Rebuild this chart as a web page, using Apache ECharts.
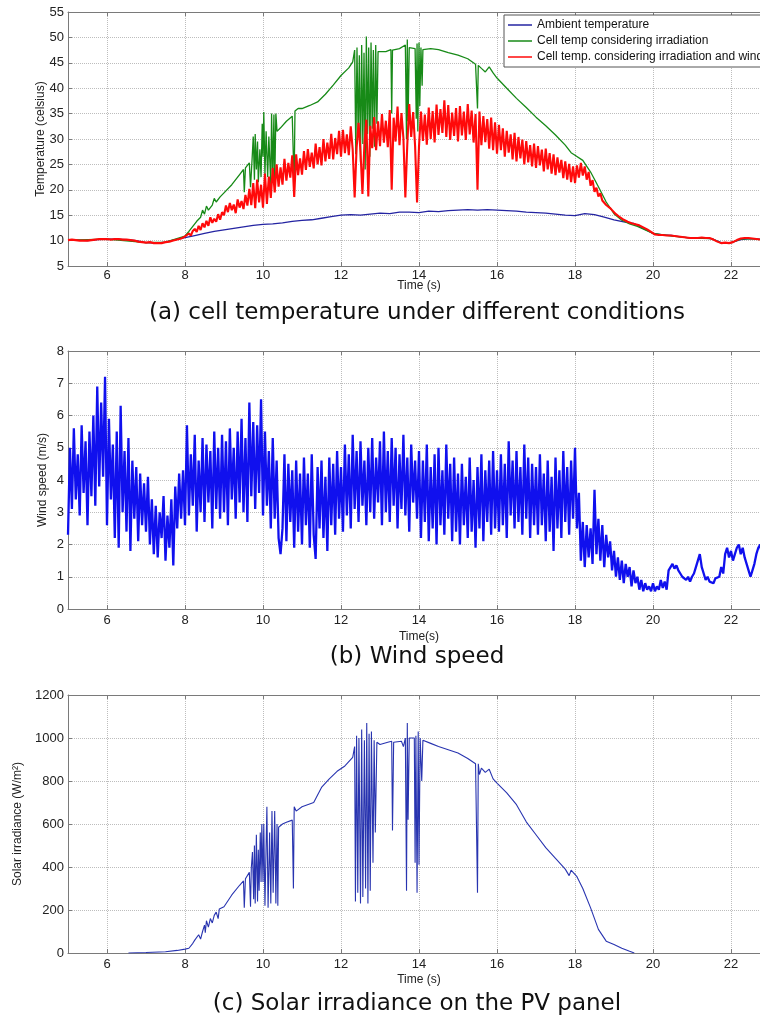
<!DOCTYPE html>
<html>
<head>
<meta charset="utf-8">
<title>PV cell temperature, wind speed and solar irradiance</title>
<script src="https://cdn.jsdelivr.net/npm/echarts@6.0.0/dist/echarts.min.js"></script>
<style>
html, body { margin: 0; padding: 0; background: #fff; }
#main { width: 760px; height: 1018px; }
</style>
</head>
<body>
<div id="main"></div>
<script>
//time axis (s)
var xTicks = [6, 8, 10, 12, 14, 16, 18, 20, 22];

//ambient temperature, one sample every 0.25 s from 5 s
var ambientStart = 5, ambientStep = 0.25;
var ambientTemp = [
	10.1, 10.1, 10.0, 10.2, 10.3, 10.3, 10.2, 10.0, 9.6, 9.5, 9.7, 10.2,
	10.6, 11.0, 11.4, 11.8, 12.1, 12.4, 12.7, 13.0, 13.2, 13.3, 13.5, 13.8,
	14.0, 14.1, 14.4, 14.7, 15.0, 15.1, 15.0, 15.2, 15.4, 15.3, 15.6, 15.6,
	15.5, 15.8, 15.7, 15.9, 16.0, 16.1, 16.0, 16.1, 16.0, 15.9, 15.8, 15.6,
	15.5, 15.4, 15.2, 15.0, 14.9, 15.3, 15.1, 14.6, 14.1, 13.7, 13.4, 12.4,
	11.4, 11.1, 11.0, 10.7, 10.5, 10.5, 10.4, 9.6, 9.6, 10.2, 10.4, 10.3,
	9.7
];

//cell temp considering irradiation: [time, temp]
var irrTemp = [
	[5, 10.1], [6, 10.3], [7, 9.6], [7.5, 9.7], [8, 10.9],
	[8.1, 11.8], [8.2, 12.8], [8.3, 13.8], [8.4, 14.6], [8.45, 16.0], [8.5, 15.2], [8.55, 16.8],
	[8.6, 16.0], [8.7, 17.0], [8.75, 18.3], [8.8, 17.6], [8.9, 18.6], [9.0, 19.4], [9.2, 21.0],
	[9.4, 23.0], [9.5, 24.0], [9.52, 19.5], [9.55, 24.3], [9.65, 25.3], [9.68, 20.5], [9.72, 26.0],
	[9.75, 30.5], [9.78, 22.0], [9.8, 31.0], [9.83, 24.0], [9.86, 29.5], [9.88, 21.5], [9.92, 28.0],
	[9.95, 22.5], [9.98, 33.0], [10.0, 26.5], [10.02, 35.3], [10.05, 23.0], [10.08, 31.5],
	[10.12, 22.5], [10.15, 30.5], [10.2, 21.0], [10.22, 35.0], [10.25, 22.5], [10.28, 34.8],
	[10.3, 20.5], [10.33, 35.0], [10.36, 31.5], [10.45, 32.2], [10.6, 33.5], [10.75, 34.5],
	[10.78, 26.0], [10.8, 22.5], [10.82, 35.5], [10.9, 36.0], [11.0, 36.0], [11.2, 36.6],
	[11.4, 37.3], [11.6, 38.8], [11.8, 40.6], [12.0, 42.5], [12.2, 44.0], [12.3, 45.2],
	[12.35, 47.5], [12.38, 27.0], [12.41, 48.0], [12.44, 30.5], [12.47, 46.5], [12.5, 25.5],
	[12.53, 48.5], [12.56, 29.0], [12.59, 47.0], [12.62, 24.0], [12.65, 50.2], [12.68, 31.0],
	[12.71, 48.0], [12.74, 26.5], [12.77, 49.0], [12.8, 32.0], [12.83, 47.5], [12.86, 28.5],
	[12.89, 48.5], [12.92, 33.0], [12.95, 47.2], [13.0, 47.0], [13.15, 47.2], [13.28, 47.6],
	[13.3, 35.0], [13.32, 47.5], [13.5, 47.8], [13.65, 48.5], [13.68, 30.0], [13.7, 49.6],
	[13.72, 33.5], [13.75, 48.0], [13.9, 47.8], [13.93, 34.0], [13.95, 48.8], [13.97, 31.5],
	[14.0, 49.0], [14.02, 36.5], [14.05, 48.0], [14.08, 40.5], [14.1, 47.6], [14.3, 47.8],
	[14.5, 47.6], [14.75, 47.0], [15.0, 46.5], [15.25, 45.8], [15.45, 44.7], [15.5, 36.0],
	[15.52, 44.5], [15.6, 43.9], [15.7, 43.2], [15.8, 44.2], [15.9, 43.0], [16.0, 42.0],
	[16.25, 40.0], [16.5, 38.0], [16.75, 36.2], [17.0, 34.3], [17.25, 32.6], [17.5, 30.8],
	[17.75, 28.8], [17.9, 27.3], [18.0, 26.8], [18.2, 25.8], [18.4, 23.5], [18.6, 20.6],
	[18.8, 17.6], [19.0, 15.3], [19.2, 14.0], [19.4, 13.3], [19.6, 12.8], [20.0, 11.4],
	[20.5, 10.9], [21.0, 10.5], [21.5, 10.4], [21.75, 9.5], [22.0, 9.6], [22.25, 10.3],
	[22.5, 10.4], [22.75, 10.2], [23.0, 9.7]
];

//cell temp considering irradiation and wind, one sample every 0.05 s from 5 s
var windTempStart = 5, windTempStep = 0.05;
var windTemp = [
	10.1, 10.1, 10.2, 10.1, 10.1, 10.0, 10.0, 10.1, 10.0, 10.0, 10.0, 10.1, 10.1, 10.2, 10.2, 10.2, 10.3, 10.2, 10.3, 10.3,
	10.3, 10.3, 10.2, 10.3, 10.3, 10.2, 10.3, 10.2, 10.2, 10.3, 10.2, 10.2, 10.1, 10.1, 10.0, 9.9, 9.8, 9.7, 9.7, 9.6,
	9.6, 9.6, 9.7, 9.6, 9.5, 9.5, 9.5, 9.6, 9.5, 9.6, 9.7, 9.7, 9.8, 9.9, 10.0, 10.1, 10.2, 10.3, 10.4, 10.6,
	10.8, 11.1, 11.4, 11.0, 11.9, 12.3, 11.7, 12.9, 12.1, 13.4, 12.6, 13.9, 12.9, 14.6, 13.5, 14.3, 13.7, 15.2, 14.1, 15.6,
	15.0, 16.9, 15.6, 17.4, 16.0, 17.1, 15.4, 18.1, 16.5, 17.8, 16.2, 19.0, 16.9, 20.2, 17.0, 21.3, 16.4, 22.0, 17.5, 21.0,
	16.5, 23.2, 17.2, 22.6, 18.4, 24.3, 19.5, 25.0, 20.6, 24.4, 21.0, 26.1, 21.8, 25.3, 22.4, 26.8, 18.6, 27.0, 22.9, 26.2,
	23.0, 27.6, 23.9, 28.0, 24.5, 27.3, 24.2, 29.1, 25.0, 28.4, 24.8, 30.0, 25.6, 29.3, 26.1, 31.0, 26.0, 30.2, 27.0, 31.6,
	26.5, 31.8, 27.2, 30.9, 26.8, 32.5, 27.9, 18.5, 28.3, 33.2, 27.5, 19.2, 29.0, 33.8, 18.7, 32.6, 28.2, 34.3, 27.8, 33.5,
	28.6, 34.9, 29.3, 33.6, 28.4, 35.7, 20.0, 34.2, 29.5, 36.4, 28.8, 35.1, 30.2, 18.5, 29.0, 36.9, 30.4, 35.3, 28.6, 17.5,
	28.5, 35.4, 29.6, 34.8, 28.9, 36.2, 30.0, 35.5, 29.3, 36.8, 30.8, 35.9, 31.2, 37.6, 30.4, 36.7, 29.8, 35.2, 30.6, 36.1,
	29.5, 36.5, 30.7, 35.4, 29.8, 36.9, 30.9, 35.6, 29.3, 34.9, 20.0, 35.4, 28.8, 34.5, 29.4, 33.9, 28.1, 34.2, 27.8, 33.3,
	27.1, 32.8, 27.8, 32.1, 26.5, 31.6, 27.3, 30.9, 26.0, 31.2, 25.6, 30.4, 26.2, 29.9, 25.0, 29.6, 25.4, 28.8, 24.6, 29.1,
	24.3, 28.6, 24.8, 27.9, 23.6, 28.1, 24.0, 27.2, 23.2, 27.0, 22.9, 26.4, 23.4, 25.9, 22.3, 25.6, 22.0, 25.1, 21.5, 24.6,
	21.3, 24.8, 22.4, 25.3, 22.8, 24.6, 22.0, 23.5, 20.8, 21.9, 19.6, 20.4, 18.7, 19.3, 17.9, 18.2, 17.0, 17.3, 16.4, 16.0,
	15.6, 15.2, 14.9, 14.6, 14.4, 14.1, 13.9, 13.7, 13.5, 13.4, 13.3, 13.2, 13.1, 13.0, 12.8, 12.6, 12.4, 12.2, 12.0, 11.7,
	11.4, 11.2, 11.1, 11.1, 11.0, 11.1, 11.1, 11.0, 11.1, 11.0, 10.9, 10.9, 10.8, 10.8, 10.7, 10.7, 10.6, 10.6, 10.6, 10.5,
	10.5, 10.5, 10.4, 10.5, 10.5, 10.6, 10.7, 10.5, 10.4, 10.5, 10.4, 10.2, 10.0, 9.8, 9.6, 9.5, 9.5, 9.6, 9.5, 9.5,
	9.6, 9.7, 9.9, 10.1, 10.3, 10.4, 10.4, 10.5, 10.4, 10.5, 10.4, 10.4, 10.5, 10.3, 10.2, 10.2, 10.0, 9.9, 9.8, 9.7,
	9.7
];

//wind speed (m/s), one sample every 0.05 s from 5 s
var windStart = 5, windStep = 0.05;
var windSpeed = [
	2.3, 5.0, 3.1, 5.6, 3.4, 4.8, 2.9, 5.7, 3.6, 5.2, 2.6, 5.5, 3.5, 6.0, 3.2, 6.9, 3.8, 6.4, 4.1, 7.2,
	2.6, 5.9, 3.4, 5.1, 2.2, 5.5, 1.9, 6.3, 3.0, 4.9, 2.4, 5.3, 1.8, 4.6, 2.8, 4.4, 2.1, 4.2, 2.6, 3.9,
	2.4, 4.1, 2.0, 3.4, 1.7, 3.2, 1.6, 3.0, 2.2, 3.5, 1.5, 2.9, 1.9, 3.4, 1.35, 3.8, 2.5, 4.2, 2.8, 4.3,
	2.6, 5.7, 2.9, 4.8, 3.2, 5.4, 2.4, 4.6, 3.0, 5.3, 2.7, 5.1, 3.3, 4.9, 2.5, 5.5, 3.1, 5.0, 2.8, 5.4,
	3.0, 5.2, 2.6, 5.6, 3.4, 5.0, 2.8, 5.5, 3.3, 5.9, 3.0, 5.3, 2.7, 6.4, 3.5, 5.8, 3.1, 5.7, 3.6, 6.5,
	2.9, 5.5, 3.2, 4.9, 2.5, 5.3, 2.8, 4.6, 2.2, 1.7, 2.5, 4.8, 2.1, 4.5, 2.7, 4.3, 1.9, 4.6, 2.4, 4.2,
	2.0, 4.7, 2.6, 4.2, 1.9, 4.8, 2.3, 1.55, 4.4, 2.5, 4.6, 2.2, 4.1, 1.8, 4.7, 2.6, 4.5, 2.3, 4.9, 2.8,
	4.4, 2.4, 5.1, 2.9, 4.8, 2.5, 5.4, 3.1, 4.9, 2.7, 5.2, 3.2, 4.6, 2.6, 5.0, 3.0, 5.3, 2.8, 4.7, 3.3,
	5.2, 2.6, 5.5, 3.0, 4.9, 2.7, 5.3, 3.2, 5.0, 2.5, 4.8, 3.1, 5.4, 2.9, 4.7, 2.4, 5.1, 3.3, 4.6, 2.8,
	4.9, 2.2, 4.6, 2.7, 5.1, 2.1, 4.4, 2.5, 4.8, 2.0, 5.0, 2.6, 4.3, 2.3, 5.1, 2.8, 4.5, 2.1, 4.7, 2.4,
	4.2, 2.0, 4.5, 2.6, 4.1, 2.2, 4.7, 2.4, 4.0, 1.9, 4.4, 2.5, 4.8, 2.1, 4.3, 2.7, 4.6, 2.3, 4.9, 2.5,
	4.3, 2.4, 4.8, 2.6, 4.5, 2.2, 5.2, 2.9, 4.6, 2.5, 4.9, 2.7, 4.4, 2.3, 5.1, 2.8, 4.7, 2.2, 4.5, 2.6,
	4.4, 2.3, 4.8, 2.6, 4.2, 2.1, 4.6, 2.4, 4.1, 1.8, 4.7, 2.5, 4.3, 2.2, 4.9, 2.7, 4.4, 2.3, 4.6, 2.8,
	5.0, 2.5, 3.6, 1.5, 2.7, 1.3, 2.6, 1.6, 2.5, 1.4, 3.7, 1.7, 2.8, 1.5, 2.6, 1.3, 2.3, 1.6, 2.1, 1.2,
	1.8, 1.0, 1.6, 0.9, 1.5, 0.8, 1.4, 1.0, 1.3, 0.7, 1.2, 0.8, 1.0, 0.6, 0.9, 0.55, 0.8, 0.6, 0.7, 0.55,
	0.8, 0.55, 0.7, 0.6, 0.9, 0.65, 0.85, 0.6, 1.2, 1.3, 1.4, 1.25, 1.35, 1.2, 1.1, 1.0, 1.05, 0.9, 1.0, 0.85,
	1.0, 1.1, 1.3, 1.5, 1.7, 1.3, 1.1, 0.9, 1.0, 0.85, 0.9, 0.8, 0.95, 0.9, 1.0, 1.3, 1.1, 1.7, 1.9, 1.6,
	1.8, 1.5, 1.7, 1.9, 2.0, 1.7, 1.9, 1.6, 1.4, 1.2, 1.0, 1.2, 1.4, 1.7, 1.9, 2.0, 1.6, 1.8, 1.3, 1.1,
	1.2
];

//solar irradiance (W/m2): [time, value]
var irradiance = [
	[6.55, 0], [7.0, 2], [7.5, 6], [7.8, 12], [8.0, 18], [8.05, 25], [8.1, 22], [8.2, 45],
	[8.25, 60], [8.3, 52], [8.35, 85], [8.4, 65], [8.45, 100], [8.5, 130], [8.52, 95], [8.55, 150],
	[8.6, 120], [8.65, 160], [8.7, 140], [8.75, 175], [8.8, 190], [8.85, 160], [8.88, 205], [9.0, 215],
	[9.2, 270], [9.4, 315], [9.5, 335], [9.52, 210], [9.55, 345], [9.65, 375], [9.68, 215], [9.7, 395],
	[9.73, 470], [9.76, 250], [9.78, 500], [9.8, 230], [9.83, 550], [9.86, 240], [9.88, 480], [9.9, 290],
	[9.93, 560], [9.95, 330], [9.97, 600], [10.0, 330], [10.02, 600], [10.05, 220], [10.08, 500],
	[10.1, 680], [10.13, 210], [10.17, 560], [10.2, 230], [10.23, 660], [10.26, 280], [10.3, 660],
	[10.33, 230], [10.36, 600], [10.38, 220], [10.4, 585], [10.5, 600], [10.6, 608], [10.75, 618],
	[10.78, 300], [10.8, 680], [10.85, 660], [11.0, 680], [11.3, 700], [11.5, 770], [11.7, 810],
	[11.9, 845], [12.1, 870], [12.3, 910], [12.35, 960], [12.37, 240], [12.4, 1010], [12.43, 280],
	[12.46, 1000], [12.5, 230], [12.53, 1040], [12.56, 260], [12.6, 990], [12.63, 300], [12.66, 1070],
	[12.69, 230], [12.72, 1020], [12.75, 290], [12.78, 1030], [12.82, 420], [12.85, 990], [12.88, 560],
	[12.92, 980], [13.0, 970], [13.2, 980], [13.3, 985], [13.32, 570], [13.35, 980], [13.55, 985],
	[13.6, 960], [13.65, 1000], [13.68, 290], [13.7, 1070], [13.72, 620], [13.75, 1000], [13.88, 1000],
	[13.9, 420], [13.92, 1010], [13.95, 280], [13.98, 1030], [14.0, 410], [14.03, 1000], [14.07, 800],
	[14.1, 990], [14.3, 975], [14.5, 960], [14.75, 945], [15.0, 930], [15.25, 905], [15.45, 880],
	[15.5, 280], [15.52, 880], [15.55, 830], [15.6, 860], [15.7, 840], [15.8, 855], [15.9, 810],
	[16.0, 790], [16.25, 745], [16.5, 690], [16.75, 610], [17.0, 550], [17.25, 490], [17.5, 440],
	[17.75, 390], [17.85, 360], [17.9, 385], [18.05, 355], [18.2, 300], [18.4, 210], [18.6, 110],
	[18.8, 55], [19.0, 40], [19.2, 22], [19.4, 8], [19.52, 0]
];

var legendNames = ['Ambient temperature', 'Cell temp considering irradiation', 'Cell temp. considering irradiation and wind'];

var axisColor = '#7a7a7a';
var labelFont = 'Liberation Sans';

//evenly sampled values -> [time, value]
var toPairs = function(start, step, values) {
	return values.map(function(v, i) {
		return [Math.round((start + i * step) * 100) / 100, v];
	});
};

var gridLine = {
	show: true,
	lineStyle: { type: 'dotted', color: '#bdbdbd', width: 1 }
};

var bottomAxis = function(gi, name, labelMargin, nameGap) {
	return {
		type: 'value', gridIndex: gi, position: 'bottom', min: 5, max: 23,
		name: name, nameLocation: 'middle', nameGap: nameGap, nameMoveOverlap: false,
		nameTextStyle: { fontFamily: labelFont, fontSize: 12, color: '#222' },
		axisLine: { show: true, onZero: false, lineStyle: { color: axisColor } },
		axisTick: { show: true, inside: true, length: 4, customValues: xTicks, lineStyle: { color: axisColor } },
		axisLabel: { customValues: xTicks, margin: labelMargin, fontFamily: labelFont, fontSize: 13, color: '#222' },
		splitLine: gridLine
	};
};

var topAxis = function(gi) {
	return {
		type: 'value', gridIndex: gi, position: 'top', min: 5, max: 23,
		axisLine: { show: true, onZero: false, lineStyle: { color: axisColor } },
		axisTick: { show: true, inside: true, length: 4, customValues: xTicks, lineStyle: { color: axisColor } },
		axisLabel: { show: false },
		splitLine: { show: false }
	};
};

var leftAxis = function(gi, min, max, step, name, nameGap) {
	return {
		type: 'value', gridIndex: gi, position: 'left', min: min, max: max, interval: step,
		name: name, nameLocation: 'middle', nameGap: nameGap, nameRotate: 90, nameMoveOverlap: false,
		nameTextStyle: { fontFamily: labelFont, fontSize: 12, color: '#222' },
		axisLine: { show: true, onZero: false, lineStyle: { color: axisColor } },
		axisTick: { show: true, inside: true, length: 4, lineStyle: { color: axisColor } },
		axisLabel: {
			margin: 4, fontFamily: labelFont, fontSize: 13, color: '#222',
			formatter: function(v) { return String(v); }
		},
		splitLine: gridLine
	};
};

var lineSeries = function(name, xi, yi, data, color, width) {
	return {
		name: name, type: 'line', xAxisIndex: xi, yAxisIndex: yi,
		data: data, symbol: 'none', showSymbol: false,
		lineStyle: { color: color, width: width },
		itemStyle: { color: color },
		clip: true
	};
};

var caption = function(text, y) {
	return {
		type: 'text', x: 417, y: y,
		style: { text: text, font: '23px "DejaVu Sans"', fill: '#111', align: 'center', verticalAlign: 'middle' }
	};
};

var chart = echarts.init(document.getElementById('main'));

chart.setOption({
	animation: false,
	grid: [
		{ left: 68, right: -10, top: 12, height: 254, containLabel: false, outerBoundsMode: 'none' },
		{ left: 68, right: -10, top: 351, height: 258, containLabel: false, outerBoundsMode: 'none' },
		{ left: 68, right: -10, top: 695, height: 258, containLabel: false, outerBoundsMode: 'none' }
	],
	xAxis: [
		bottomAxis(0, 'Time (s)', 3, 14),
		bottomAxis(1, 'Time(s)', 5, 22),
		bottomAxis(2, 'Time (s)', 5, 21),
		topAxis(0), topAxis(1), topAxis(2)
	],
	yAxis: [
		leftAxis(0, 5, 55, 5, 'Temperature (celsius)', 21),
		leftAxis(1, 0, 8, 1, 'Wind speed (m/s)', 19),
		leftAxis(2, 0, 1200, 200, 'Solar irradiance (W/m\u00b2)', 44)
	],
	legend: {
		data: legendNames,
		orient: 'vertical',
		left: 504, top: 15,
		icon: 'rect',
		itemWidth: 24, itemHeight: 1.5, itemGap: 2,
		padding: [3, 6, 3, 4],
		borderColor: '#555', borderWidth: 1, backgroundColor: '#fff',
		textStyle: { fontFamily: labelFont, fontSize: 12, color: '#111', lineHeight: 14 }
	},
	graphic: [
		caption('(a) cell temperature under different conditions', 313),
		caption('(b) Wind speed', 657),
		caption('(c) Solar irradiance on the PV panel', 1004)
	],
	series: [
		lineSeries(legendNames[0], 0, 0, toPairs(ambientStart, ambientStep, ambientTemp), '#2424a2', 1.3),
		lineSeries(legendNames[1], 0, 0, irrTemp, '#178a17', 1.3),
		lineSeries(legendNames[2], 0, 0, toPairs(windTempStart, windTempStep, windTemp), '#ff0a0a', 2.1),
		lineSeries('Wind speed', 1, 1, toPairs(windStart, windStep, windSpeed), '#1010ee', 2.3),
		lineSeries('Solar irradiance', 2, 2, irradiance, '#2834b0', 1.1)
	]
});
</script>
</body>
</html>
